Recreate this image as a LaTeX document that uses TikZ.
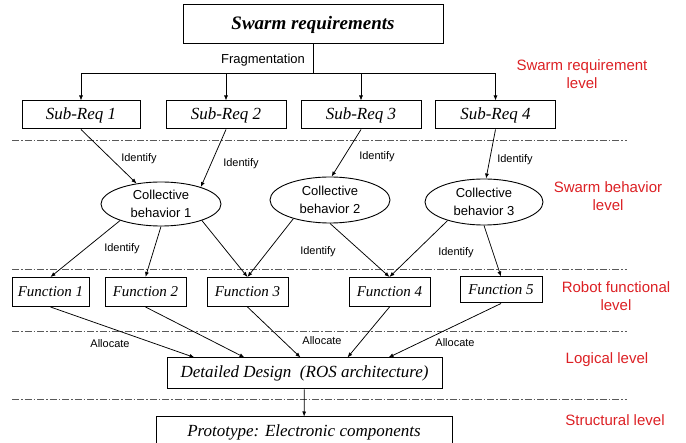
\documentclass[tikz,border=0pt]{standalone}
\usepackage{fontspec}
\setmainfont{Liberation Serif}
\setsansfont{Liberation Sans}
\usetikzlibrary{arrows.meta,shapes.geometric}
\definecolor{levelred}{RGB}{220,32,36}

\tikzset{
  reqbox/.style={draw,line width=1pt,inner sep=0pt,minimum height=28pt,font=\itshape\fontsize{17}{20}\selectfont},
  funbox/.style={draw,line width=1pt,inner sep=0pt,minimum height=29pt,font=\itshape\fontsize{15}{18}\selectfont},
  behav/.style={draw,ellipse,line width=0.9pt,inner sep=0pt,align=center,font=\sffamily\fontsize{13}{18}\selectfont},
  tag/.style={font=\sffamily\fontsize{11}{13}\selectfont},
  levelname/.style={levelred,align=center,font=\sffamily\fontsize{15}{18}\selectfont},
  levelsep/.style={black!65,line width=0.8pt,dash pattern=on 7pt off 2pt on 1.5pt off 2pt},
  arr/.style={line width=0.75pt,-{Latex[length=5pt,width=4pt]}}
}

\begin{document}
\begin{tikzpicture}[x=1pt,y=-1pt]
			\useasboundingbox (0,0) rectangle (686,443);
			% level separators
			\foreach \y in {140,269,331,399} \draw[levelsep] (12,\y) -- (627,\y);
			% requirements
			\node[draw,line width=1pt,minimum width=260pt,minimum height=39pt,font=\bfseries\itshape\fontsize{19}{22}\selectfont] (swarm) at (313,24.5) {Swarm requirements};
			\coordinate (fork) at (313,73);
			\node[tag,font=\sffamily\fontsize{13}{15}\selectfont] (frag) at (263,60) {Fragmentation};
			\node[reqbox,minimum width=118pt] (sr1) at (81,115) {Sub-Req 1};
			\node[reqbox,minimum width=120pt] (sr2) at (226,115) {Sub-Req 2};
			\node[reqbox,minimum width=120pt] (sr3) at (361,115) {Sub-Req 3};
			\node[reqbox,minimum width=120pt] (sr4) at (495.5,115) {Sub-Req 4};
			\draw[line width=0.75pt] (swarm) -- (fork);
			\foreach \s in {sr1,sr2,sr3,sr4} \draw[arr] (fork) -| (\s.north);
			% collective behaviors
			\node[behav,minimum width=120pt,minimum height=44pt] (cb1) at (161,204) {Collective\\behavior 1};
			\node[behav,minimum width=120pt,minimum height=46pt] (cb2) at (330,200) {Collective\\behavior 2};
			\node[behav,minimum width=118pt,minimum height=46pt] (cb3) at (484,202) {Collective\\behavior 3};
			\draw[arr] (sr1.south) -- (cb1.140);
			\draw[arr] (sr2.south) -- (cb1.23);
			\draw[arr] (sr3.south) -- (cb2.86);
			\draw[arr] (sr4.south) -- (cb3.85);
			\node[tag] (id1) at (139,159) {Identify};
			\node[tag] (id2) at (241,164) {Identify};
			\node[tag] (id3) at (377,157) {Identify};
			\node[tag] (id4) at (515,160) {Identify};
			% robot functions
			\node[funbox,minimum width=77pt] (f1) at (50.5,292) {Function 1};
			\node[funbox,minimum width=81pt] (f2) at (145.5,292) {Function 2};
			\node[funbox,minimum width=81pt] (f3) at (247.5,292) {Function 3};
			\node[funbox,minimum width=81pt] (f4) at (389.5,292) {Function 4};
			\node[funbox,minimum width=82pt,minimum height=26pt] (f5) at (501,290) {Function 5};
			\draw[arr] (cb1.-158) -- (f1.north);
			\draw[arr] (cb1.south) -- (f2.north);
			\draw[arr] (cb1.-22) -- (f3.north);
			\draw[arr] (cb2.-153) -- (f3.north);
			\draw[arr] (cb2.south) -- (f4.north);
			\draw[arr] (cb3.-153) -- (f4.north);
			\draw[arr] (cb3.south) -- (f5.north);
			\node[tag] (id5) at (122,249) {Identify};
			\node[tag] (id6) at (318,252) {Identify};
			\node[tag] (id7) at (456,253) {Identify};
			% design and prototype
			\node[reqbox,minimum width=275pt,minimum height=31pt] (dd) at (304.5,373.5) {Detailed Design\ \ (ROS architecture)};
			\node[reqbox,minimum width=296pt,minimum height=30pt] (proto) at (304,432) {Prototype: Electronic components};
			\draw[arr] (f1.south) -- ([xshift=-110pt]dd.north);
			\draw[arr] (f2.south) -- ([xshift=-60pt]dd.north);
			\draw[arr] (f3.south) -- ([xshift=-4pt]dd.north);
			\draw[arr] (f4.south) -- ([xshift=43pt]dd.north);
			\draw[arr] (f5.south) -- ([xshift=84pt]dd.north);
			\draw[arr] (dd) -- (proto);
			\node[tag] (al1) at (110,344) {Allocate};
			\node[tag] (al2) at (322,341) {Allocate};
			\node[tag] (al3) at (455,343) {Allocate};
			% level names
			\node[levelname] (lv1) at (582,74) {Swarm requirement\\level};
			\node[levelname] (lv2) at (608,196) {Swarm behavior\\level};
			\node[levelname] (lv3) at (616,296) {Robot functional\\level};
			\node[levelname] (lv4) at (607,360) {Logical level};
			\node[levelname] (lv5) at (615,420) {Structural level};
		\end{tikzpicture}
\end{document}
